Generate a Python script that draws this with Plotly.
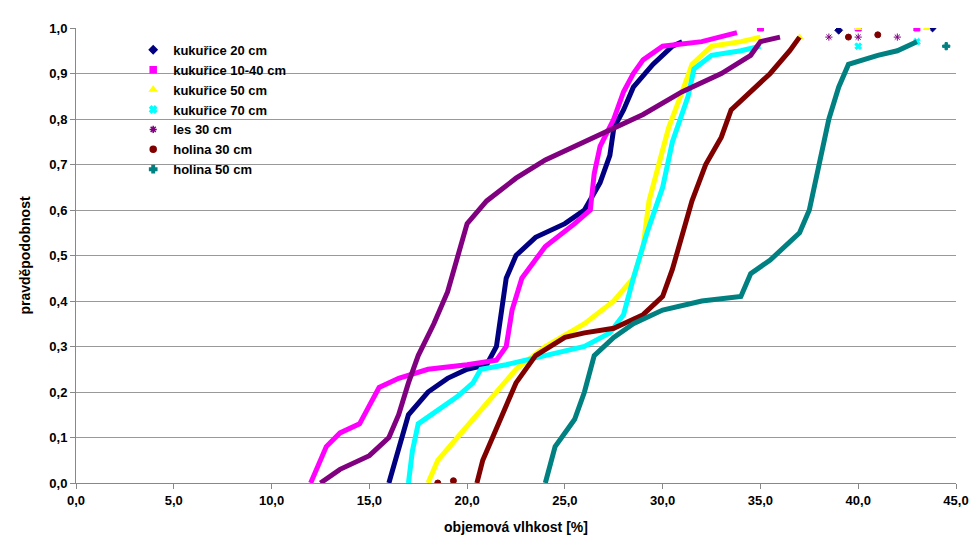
import plotly.graph_objects as go

# cumulative probability curves
names = ['kukuřice 20 cm', 'kukuřice 10-40 cm', 'kukuřice 50 cm', 'kukuřice 70 cm',
         'les 30 cm', 'holina 30 cm', 'holina 50 cm']
colors = ['#000080', '#ff00ff', '#ffff00', '#00ffff', '#800080', '#800000', '#008080']
symbols = ['diamond', 'square', 'triangle-up', 'x', 'asterisk', 'circle', 'cross']

k20_x = [16.0, 16.5, 17.0, 18, 19, 20, 21, 21.5, 21.8, 22.0, 22.5, 23.5, 25, 26, 26.8, 27.3, 27.5, 28, 28.5, 29.5, 30.5, 31.0]
k20_y = [0, 0.08, 0.15, 0.20, 0.23, 0.25, 0.26, 0.30, 0.38, 0.45, 0.50, 0.54, 0.57, 0.60, 0.66, 0.72, 0.78, 0.82, 0.87, 0.92, 0.96, 0.97]
k20_tx = [39.0, 43.8]
k20_ty = [0.995, 1.0]

k1040_x = [12.0, 12.3, 12.8, 13.5, 14.5, 15.0, 15.5, 16.5, 18, 20, 21.5, 22.0, 22.3, 22.8, 24, 25.5, 26.3, 26.5, 26.8, 27.5, 28, 28.5, 29.0, 30, 32, 33.8]
k1040_y = [0, 0.03, 0.08, 0.11, 0.13, 0.17, 0.21, 0.23, 0.25, 0.26, 0.27, 0.30, 0.38, 0.45, 0.52, 0.57, 0.60, 0.68, 0.74, 0.80, 0.86, 0.90, 0.93, 0.96, 0.97, 0.99]
k1040_tx = [35.0, 40.0, 43.0]
k1040_ty = [1.0, 1.0, 1.0]

k50_x = [18.0, 18.5, 19.5, 20.5, 21.5, 22.5, 24, 26, 27.5, 28.5, 29.0, 29.3, 29.8, 30.3, 31, 31.5, 32.5, 34, 35]
k50_y = [0, 0.05, 0.10, 0.15, 0.20, 0.25, 0.30, 0.35, 0.40, 0.45, 0.52, 0.62, 0.70, 0.78, 0.86, 0.92, 0.96, 0.97, 0.98]
k50_tx = [37.0, 40.0, 43.5]
k50_ty = [0.98, 1.0, 1.0]

k70_x = [17.0, 17.2, 17.5, 18.5, 19.5, 20.3, 20.7, 22, 24, 26, 27.3, 28, 28.5, 29.2, 30, 30.5, 31.3, 31.6, 32.5, 34, 35]
k70_y = [0, 0.07, 0.13, 0.16, 0.19, 0.22, 0.25, 0.26, 0.28, 0.30, 0.33, 0.37, 0.45, 0.55, 0.65, 0.75, 0.85, 0.91, 0.94, 0.95, 0.96]
k70_tx = [40.0, 43.0]
k70_ty = [0.96, 0.97]

les_x = [12.5, 13.5, 15, 16, 16.5, 17.0, 17.5, 18.3, 19.0, 19.5, 20.0, 21, 22.5, 24, 26, 27.5, 29, 31, 33, 34.5, 35, 36]
les_y = [0, 0.03, 0.06, 0.10, 0.15, 0.22, 0.28, 0.35, 0.42, 0.50, 0.57, 0.62, 0.67, 0.71, 0.75, 0.78, 0.81, 0.86, 0.90, 0.94, 0.97, 0.98]
les_tx = [38.5, 40.0, 42.0]
les_ty = [0.98, 0.98, 0.98]

h30_x = [20.5, 20.8, 21.5, 22, 22.5, 23.5, 25, 26, 27.5, 29, 30, 30.5, 31, 31.5, 32.2, 33, 33.5, 34.5, 35.5, 36.5, 37]
h30_y = [0, 0.05, 0.12, 0.17, 0.22, 0.28, 0.32, 0.33, 0.34, 0.37, 0.41, 0.47, 0.55, 0.62, 0.70, 0.76, 0.82, 0.86, 0.90, 0.95, 0.98]
h30_tx = [18.5, 19.3, 39.5, 41.0]
h30_ty = [0, 0.005, 0.98, 0.985]

h50_x = [24, 24.5, 25, 25.5, 26, 26.5, 27.5, 28.5, 30, 32, 34, 34.5, 35.5, 37, 37.5, 38, 38.5, 39, 39.5, 41, 42, 43]
h50_y = [0, 0.08, 0.11, 0.14, 0.20, 0.28, 0.32, 0.35, 0.38, 0.40, 0.41, 0.46, 0.49, 0.55, 0.60, 0.70, 0.80, 0.87, 0.92, 0.94, 0.95, 0.97]
h50_tx = [44.5]
h50_ty = [0.96]

curves = [(k20_x, k20_y, k20_tx, k20_ty), (k1040_x, k1040_y, k1040_tx, k1040_ty),
          (k50_x, k50_y, k50_tx, k50_ty), (k70_x, k70_y, k70_tx, k70_ty),
          (les_x, les_y, les_tx, les_ty), (h30_x, h30_y, h30_tx, h30_ty),
          (h50_x, h50_y, h50_tx, h50_ty)]

fig = go.Figure()
for (cx, cy, tx, ty), n, c, s in zip(curves, names, colors, symbols):
    fig.add_trace(go.Scatter(x=cx, y=cy, mode='lines', line=dict(color=c, width=5),
                             showlegend=False, hoverinfo='skip'))
    fig.add_trace(go.Scatter(x=tx, y=ty, mode='markers', showlegend=False,
                             marker=dict(color=c, symbol=s, size=6, line=dict(color=c, width=1))))
    # legend entry only
    fig.add_trace(go.Scatter(x=[None], y=[None], mode='markers', name='<b>' + n + '</b>',
                             marker=dict(color=c, symbol=s, size=6, line=dict(color=c, width=1.5))))

fig.update_layout(
    width=979, height=546, plot_bgcolor='white', paper_bgcolor='white',
    margin=dict(l=68, r=31, t=20, b=71), separators=',.',
    font=dict(family='Liberation Sans, Arial', size=13, color='black'),
    legend=dict(x=0.065, y=0.985, xanchor='left', yanchor='top', bgcolor='rgba(0,0,0,0)',
                font=dict(size=13, family='Liberation Sans, Arial'), tracegroupgap=0,
                itemwidth=30),
)
fig.update_xaxes(range=[0, 45], dtick=5, tickformat='.1f', showgrid=False, zeroline=False,
                 ticks='outside', ticklen=5, tickcolor='#888', showline=True, linecolor='#888',
                 tickprefix='<b>', ticksuffix='</b>',
                 tickfont=dict(size=13, family='Liberation Sans, Arial'),
                 title=dict(text='<b>objemová vlhkost [%]</b>', font=dict(size=14)))
fig.update_yaxes(range=[0, 1], dtick=0.1, tickformat='.1f', showgrid=True, gridcolor='#999',
                 gridwidth=1, zeroline=False, ticks='outside', ticklen=5, tickcolor='#888',
                 showline=True, linecolor='#888', tickprefix='<b>', ticksuffix='</b>',
                 tickfont=dict(size=13, family='Liberation Sans, Arial'),
                 title=dict(text='<b>pravděpodobnost</b>', font=dict(size=14)))
fig.write_html("out.html")
